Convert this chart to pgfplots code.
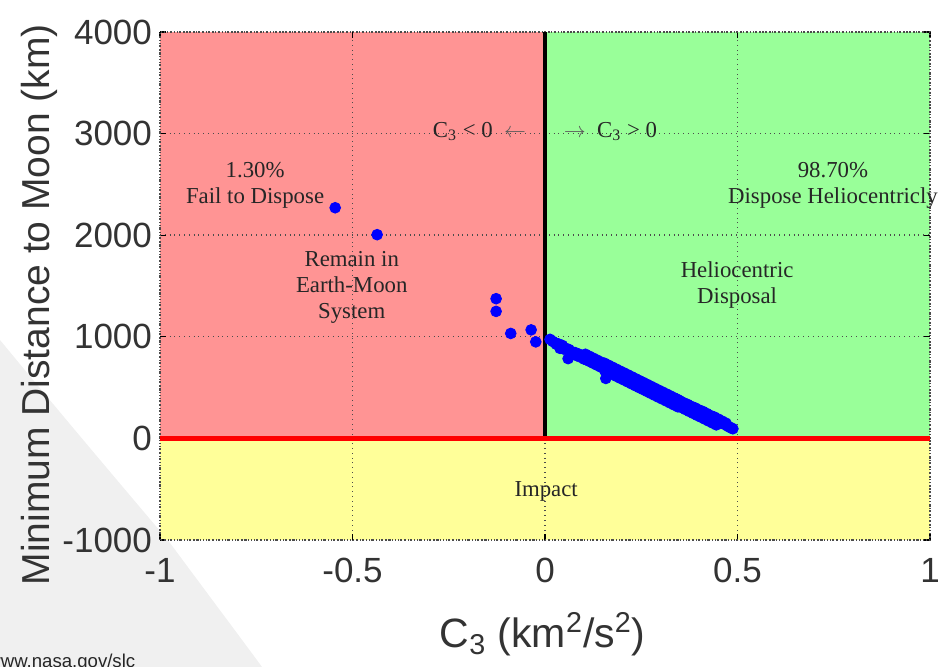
\documentclass[border=0pt]{standalone}
\usepackage{pgfplots}
\pgfplotsset{compat=1.18}
\usepackage{fontspec}
\setmainfont{Liberation Sans}
\newfontfamily\serif{Liberation Serif}
\definecolor{redfill}{RGB}{255,148,148}
\definecolor{greenfill}{RGB}{153,255,153}
\definecolor{yellowfill}{RGB}{255,255,153}
\begin{document}
\begin{tikzpicture}
\begin{scope}
\clip (0pt,0pt) rectangle (471pt,333.5pt);
\node[anchor=base west, inner sep=0, text=black!85, font=\fontsize{9.3}{11}\selectfont] at (-6.5pt,-0.5pt) {www.nasa.gov/slc};
\end{scope}
\begin{axis}[
  set layers,
  at={(80pt,63.5pt)}, anchor=south west,
  scale only axis, width=385pt, height=254pt,
  xmin=-1, xmax=1, ymin=-1000, ymax=4000,
  xtick={-1,-0.5,0,0.5,1},
  xticklabels={-1,-0.5,0,0.5,1},
  ytick={-1000,0,1000,2000,3000,4000},
  yticklabels={-1000,0,1000,2000,3000,4000},
  tick label style={font=\fontsize{17.5}{20}\selectfont, text=black!80},
  xticklabel style={yshift=-5.5pt},
  yticklabel style={xshift=-0.5pt},
  tick align=inside, major tick length=3pt,
  tick style={black, line width=0.6pt},
  axis line style={draw=gray!60!black, densely dotted, line width=0.6pt},
  grid=major,
  grid style={dotted, gray!60!black, line width=0.7pt},
  xlabel={C\textsubscript{3} (km\textsuperscript{2}/s\textsuperscript{2})},
  ylabel={Minimum Distance to Moon (km)},
  xlabel style={at={(axis description cs:0.497,-0.2126)}, anchor=base, inner sep=0, font=\fontsize{20.5}{23}\selectfont, text=black!80},
  ylabel style={at={(axis description cs:-0.143,0.463)}, anchor=base, inner sep=0, font=\fontsize{19.5}{22}\selectfont, text=black!80},
  clip=false,
]
\begin{pgfonlayer}{axis background}
\fill[gray!12] (rel axis cs:-0.2078,-0.25) -- (rel axis cs:-0.2078,0.3937) .. controls (rel axis cs:-0.1039,0.2028) and (rel axis cs:-0.0260,0.0650) .. (rel axis cs:0.0130,-0.0059) .. controls (rel axis cs:0.0649,-0.1122) and (rel axis cs:0.1039,-0.1909) .. (rel axis cs:0.1325,-0.25) -- cycle;
\end{pgfonlayer}
\addplot[on layer=axis background, draw=none, fill=redfill] coordinates {(-1,0) (0,0) (0,4000) (-1,4000)} -- cycle;
\addplot[on layer=axis background, draw=none, fill=greenfill] coordinates {(0,0) (1,0) (1,4000) (0,4000)} -- cycle;
\addplot[on layer=axis background, draw=none, fill=yellowfill] coordinates {(-1,-1000) (1,-1000) (1,0) (-1,0)} -- cycle;
\addplot[black, line width=2pt] coordinates {(0,0) (0,4000)};
\addplot[red, line width=2.5pt] coordinates {(-1,0) (1,0)};
\addplot[only marks, mark=*, mark size=2.7pt, draw=blue, fill=blue, mark options={draw=blue, fill=blue}] table {
x y
-0.545 2270
-0.436 2005
-0.127 1375
-0.127 1250
-0.089 1033
-0.036 1068
-0.024 950
0.013 975
0.020 955
0.026 940
0.030 925
0.035 930
0.039 886
0.045 915
0.048 880
0.055 885
0.060 785
0.062 875
0.065 860
0.070 850
0.072 830
0.078 845
0.082 815
0.088 830
0.092 800
0.098 810
0.102 780
0.105 828
0.105 778
0.108 795
0.112 770
0.115 809
0.115 759
0.118 775
0.122 750
0.125 790
0.125 740
0.128 765
0.132 735
0.135 771
0.135 721
0.138 745
0.142 720
0.145 752
0.145 702
0.148 730
0.152 705
0.155 739
0.155 669
0.158 590
0.160 700
0.165 685
0.165 720
0.165 650
0.170 695
0.175 665
0.175 701
0.175 631
0.180 675
0.185 645
0.185 682
0.185 612
0.190 655
0.195 630
0.195 663
0.195 593
0.200 640
0.205 610
0.205 645
0.205 575
0.210 620
0.215 590
0.215 626
0.215 556
0.220 600
0.225 575
0.225 607
0.225 537
0.230 585
0.235 555
0.235 588
0.235 518
0.240 565
0.245 540
0.245 569
0.245 499
0.250 550
0.255 520
0.255 551
0.255 481
0.260 530
0.265 500
0.265 532
0.265 462
0.270 515
0.275 485
0.275 513
0.275 443
0.280 495
0.285 465
0.285 494
0.285 424
0.290 480
0.295 450
0.295 475
0.295 405
0.300 460
0.305 430
0.305 457
0.305 387
0.310 440
0.315 410
0.315 438
0.315 368
0.320 425
0.325 395
0.325 419
0.325 349
0.330 405
0.335 375
0.335 400
0.335 330
0.340 390
0.345 360
0.345 381
0.345 311
0.350 370
0.355 340
0.355 358
0.355 303
0.360 350
0.365 320
0.365 339
0.365 284
0.370 335
0.375 305
0.375 320
0.375 265
0.380 315
0.385 285
0.385 301
0.385 246
0.390 300
0.395 270
0.395 282
0.395 227
0.400 280
0.405 250
0.405 264
0.405 209
0.410 265
0.415 235
0.415 245
0.415 190
0.420 245
0.425 215
0.425 226
0.425 171
0.430 225
0.435 195
0.435 207
0.435 152
0.440 210
0.445 180
0.445 188
0.445 133
0.450 190
0.455 160
0.460 170
0.465 140
0.470 150
0.475 120
0.480 110
0.485 100
0.488 95
};
\begin{scope}[every node/.style={font=\serif\fontsize{11.4}{13}\selectfont, align=center, text=black!85}]
\node[anchor=base] at (axis cs:-0.170,2960) {C\textsubscript{3} < 0\enspace\textcolor{gray!70!black}{$\leftarrow$}};
\node[anchor=base] at (axis cs:0.170,2960) {\textcolor{gray!70!black}{$\rightarrow$}\enspace C\textsubscript{3} > 0};
\node at (axis cs:-0.753,2490) {1.30\%\\Fail to Dispose};
\node at (axis cs:0.748,2490) {98.70\%\\Dispose Heliocentricly};
\node at (axis cs:-0.502,1486) {Remain in\\Earth-Moon\\System};
\node at (axis cs:0.499,1506) {Heliocentric\\Disposal};
\node at (axis cs:0.003,-522) {Impact};
\end{scope}
\end{axis}
\pgfresetboundingbox
\useasboundingbox (0pt,0pt) rectangle (471pt,333.5pt);
\end{tikzpicture}
\end{document}
